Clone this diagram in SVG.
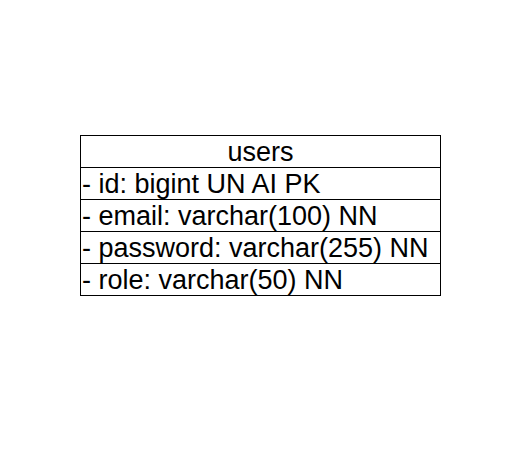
<svg xmlns="http://www.w3.org/2000/svg" width="529" height="467" viewBox="0 0 529 467">
<style>
.b{fill:#fff;stroke:#000;stroke-width:1}
.t{font-family:"Liberation Sans",Arial,sans-serif;font-size:27px;fill:#000}
</style>
<rect width="529" height="467" fill="#fff"/>
<g id="users">
<rect class="b" x="80.5" y="135.5" width="360" height="32"/>
<rect class="b" x="80.5" y="167.5" width="360" height="32"/>
<rect class="b" x="80.5" y="199.5" width="360" height="32"/>
<rect class="b" x="80.5" y="231.5" width="360" height="32"/>
<rect class="b" x="80.5" y="263.5" width="360" height="32"/>
<text class="t" x="260.5" y="161" text-anchor="middle">users</text>
<text class="t" x="82" y="193">- id: bigint UN AI PK</text>
<text class="t" x="82" y="225">- email: varchar(100) NN</text>
<text class="t" x="82" y="257">- password: varchar(255) NN</text>
<text class="t" x="82" y="289">- role: varchar(50) NN</text>
</g>
<g id="connectors"></g>
</svg>
